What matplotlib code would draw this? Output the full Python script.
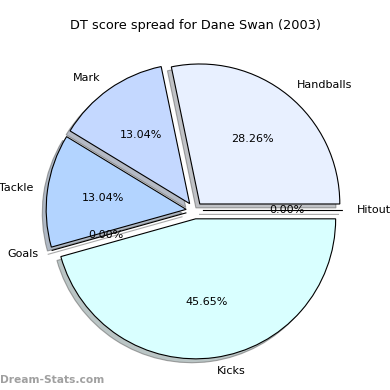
import matplotlib
matplotlib.use("Agg")
import matplotlib.pyplot as plt

labels = ["Handballs", "Mark", "Tackle", "Goals", "Kicks", "Hitout"]
values = [13, 6, 6, 0, 21, 0]
colors = ["#e8f0ff", "#c4d8ff", "#b3d4ff", "#d0e8ff", "#d9ffff", "#e0e0ff"]
explode = [0.06] * len(values)
title = "DT score spread for Dane Swan (2003)"
watermark = "Dream-Stats.com"

fig = plt.figure(figsize=(3.9, 3.9), dpi=100)
r_px = 140
cx, cy = 194.5, 390 - 210.5
w = 2.5 * r_px
ax = fig.add_axes([(cx - w / 2) / 390, (cy - w / 2) / 390, w / 390, w / 390])
ax.pie(values, labels=labels, colors=colors, explode=explode, autopct="%.2f%%",
       startangle=0,
       shadow=dict(ox=-0.02, oy=-0.02, shade=0.45, edgecolor="#555555", linewidth=0.8),
       wedgeprops=dict(edgecolor="black", linewidth=0.8),
       textprops=dict(fontsize=8))
ax.set_aspect("equal")

fig.text(195 / 390, 1 - 25 / 390, title, ha="center", va="center", fontsize=9.3)
fig.text(0.0, 1 - 380 / 390, watermark, ha="left", va="center", fontsize=7.7,
         color="#a0a0a0", fontweight="bold")

fig.savefig("out.png", dpi=100)
